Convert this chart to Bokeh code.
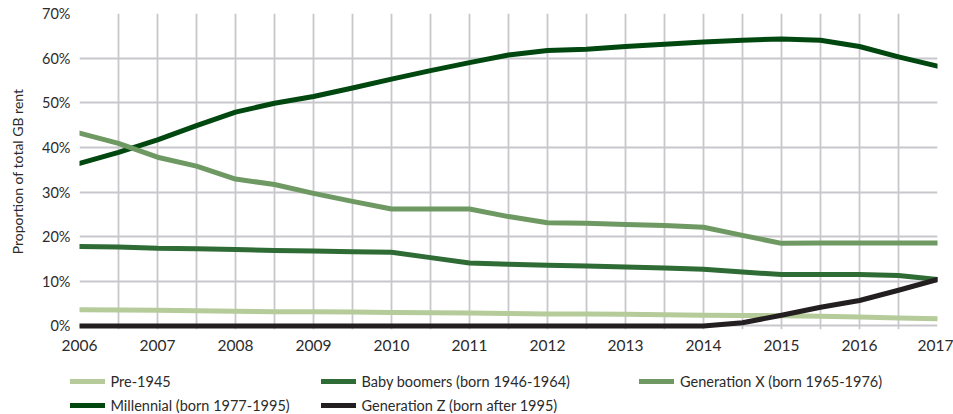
from bokeh.plotting import figure
from bokeh.layouts import column
from bokeh.models import Range1d, FixedTicker, PrintfTickFormatter, Legend, LegendItem
from bokeh.embed import file_html
from bokeh.resources import INLINE

periods = [2006, 2006.5, 2007, 2007.5, 2008, 2008.5, 2009, 2009.5, 2010, 2010.5,
           2011, 2011.5, 2012, 2012.5, 2013, 2013.5, 2014, 2014.5, 2015, 2015.5,
           2016, 2016.5, 2017]
year_ticks = [2006, 2007, 2008, 2009, 2010, 2011, 2012, 2013, 2014, 2015, 2016, 2017]
pct_ticks = [0, 10, 20, 30, 40, 50, 60, 70]

pre1945 = [3.6, 3.55, 3.5, 3.4, 3.3, 3.2, 3.15, 3.1, 3.0, 2.95, 2.9, 2.8, 2.7,
           2.65, 2.6, 2.5, 2.4, 2.35, 2.3, 2.15, 2.0, 1.8, 1.6]
boomers = [17.8, 17.7, 17.4, 17.3, 17.1, 16.9, 16.8, 16.6, 16.5, 15.3, 14.1, 13.8,
           13.6, 13.4, 13.2, 13.0, 12.7, 12.1, 11.5, 11.5, 11.5, 11.3, 10.4]
genx = [43.2, 40.9, 37.8, 35.8, 32.9, 31.7, 29.7, 27.9, 26.2, 26.2, 26.2, 24.5,
        23.1, 23.0, 22.7, 22.5, 22.1, 20.3, 18.5, 18.6, 18.6, 18.6, 18.6]
millennial = [36.4, 38.9, 41.7, 44.9, 47.9, 49.9, 51.4, 53.3, 55.3, 57.2, 59.0, 60.7,
              61.7, 62.0, 62.6, 63.1, 63.6, 64.0, 64.3, 64.0, 62.6, 60.3, 58.2]
genz = [0, 0, 0, 0, 0, 0, 0, 0, 0, 0, 0, 0, 0, 0, 0, 0, 0, 0.7, 2.4, 4.2, 5.7, 8.0, 10.4]

names = ["Pre-1945", "Baby boomers (born 1946-1964)", "Generation X (born 1965-1976)",
         "Millennial (born 1977-1995)", "Generation Z (born after 1995)"]
colors = {"pre": "#b5cb9a", "boom": "#2f6b35", "genx": "#6f9962",
          "mill": "#00480f", "genz": "#231f20"}

FONT = "Lato"
TXT = "#2b2b2b"
LW = 5
W = 953

# ---------------- main chart ----------------
p = figure(width=W, height=362, output_backend="svg", toolbar_location=None,
           x_range=Range1d(2006, 2017), y_range=Range1d(-0.8, 70),
           min_border_left=79, min_border_right=16, min_border_top=13,
           min_border_bottom=33)
p.frame_align = False
p.outline_line_color = None

p.xaxis.ticker = FixedTicker(ticks=year_ticks)
p.yaxis.ticker = FixedTicker(ticks=pct_ticks)
p.yaxis.formatter = PrintfTickFormatter(format="%d%%")
p.xgrid.ticker = FixedTicker(ticks=[y + h for y in year_ticks for h in (0, 0.5) if y + h <= 2017])
p.ygrid.ticker = FixedTicker(ticks=pct_ticks)
for g in (p.xgrid, p.ygrid):
    g.grid_line_color = "#c8c8cc"
    g.grid_line_width = 1.8

for ax in (p.xaxis, p.yaxis):
    ax.axis_line_color = None
    ax.major_tick_line_color = None
    ax.minor_tick_line_color = None
    ax.major_tick_out = 0
    ax.major_tick_in = 0
    ax.major_label_text_font = FONT
    ax.major_label_text_color = TXT
p.xaxis.major_label_text_font_size = "15.5px"
p.yaxis.major_label_text_font_size = "14.5px"
p.xaxis.major_label_standoff = 10
p.yaxis.major_label_standoff = 9
p.yaxis.axis_label = "Proportion of total GB rent"
p.yaxis.axis_label_text_font = FONT
p.yaxis.axis_label_text_font_size = "14px"
p.yaxis.axis_label_text_font_style = "normal"
p.yaxis.axis_label_text_color = TXT
p.yaxis.axis_label_standoff = 13

series = [("mill", millennial), ("pre", pre1945), ("boom", boomers),
          ("genx", genx), ("genz", genz)]
for key, vals in series:
    p.line(periods, vals, line_color=colors[key], line_width=LW,
           line_cap="round", line_join="round")

# ---------------- legend strip ----------------
lf = figure(width=W, height=52, output_backend="svg", toolbar_location=None,
            x_range=Range1d(0, 1), y_range=Range1d(0, 1),
            x_axis_type=None, y_axis_type=None,
            min_border_left=0, min_border_right=0, min_border_top=0,
            min_border_bottom=0)
lf.frame_align = False
lf.grid.visible = False
lf.outline_line_color = None

nan = float("nan")
sw = {}
for key in ["pre", "boom", "genx", "mill", "genz"]:
    sw[key] = lf.line([nan], [nan], line_color=colors[key], line_width=LW, line_cap="round")

def make_legend(items, loc):
    lg = Legend(items=items, location=loc, orientation="vertical",
                padding=0, margin=0, spacing=4,
                glyph_width=35, glyph_height=20, label_height=20,
                label_standoff=6, border_line_color=None,
                background_fill_alpha=0, label_text_font=FONT,
                label_text_font_size="14.5px", label_text_color=TXT)
    lf.add_layout(lg, "center")

make_legend([LegendItem(label=names[0], renderers=[sw["pre"]]),
             LegendItem(label=names[3], renderers=[sw["mill"]])], (69.5, -1))
make_legend([LegendItem(label=names[1], renderers=[sw["boom"]]),
             LegendItem(label=names[4], renderers=[sw["genz"]])], (320.5, -1))
make_legend([LegendItem(label=names[2], renderers=[sw["genx"]])], (639, 23))

open("out.html", "w").write(file_html(column(p, lf, spacing=0), INLINE))
